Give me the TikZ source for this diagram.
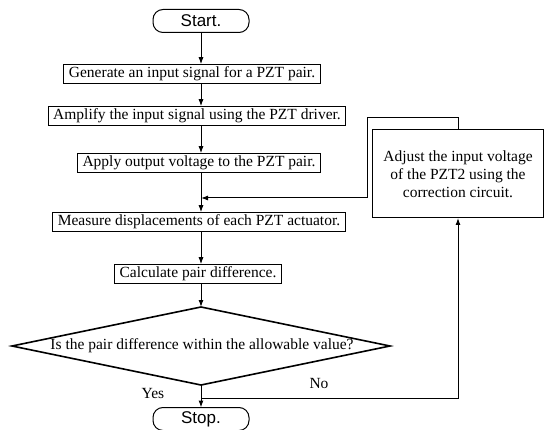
\documentclass[tikz,border=0pt]{standalone}
\usepackage{fontspec}
\setmainfont{Liberation Serif}
\newfontfamily\arialf{Liberation Sans}
\usetikzlibrary{arrows.meta,shapes.geometric}
\begin{document}
\begin{tikzpicture}[x=1pt,y=-1pt,
  proc/.style={draw,line width=1pt,font=\fontsize{15.5}{18}\selectfont,inner xsep=5pt,inner ysep=2.5pt,text height=11pt,text depth=3.5pt,outer sep=0pt},
  term/.style={draw,line width=1pt,rounded corners=10pt,minimum width=96pt,minimum height=23pt,font=\arialf\fontsize{17}{18}\selectfont,inner sep=0pt,outer sep=0pt},
  bigbox/.style={draw,line width=1pt,minimum width=171pt,minimum height=88pt,align=center,font=\fontsize{15.5}{18}\selectfont,inner sep=0pt,outer sep=0pt},
  decide/.style={draw,diamond,line width=1.6pt,minimum width=378pt,minimum height=78pt,inner sep=0pt,outer sep=0pt},
  arr/.style={line width=1pt,-{Latex[length=7pt,width=5pt]}},
  lbl/.style={font=\fontsize{15.5}{18}\selectfont,inner sep=0pt}]
\useasboundingbox (0,0) rectangle (551,430);
\fill[white] (0,0) rectangle (551,430);
\node[term] (start) at (201,21) {Start.};
\node[proc] (gen) at (192,74) {Generate an input signal for a PZT pair.};
\node[proc] (amp) at (197,116) {Amplify the input signal using the PZT driver.};
\node[proc] (app) at (199,163) {Apply output voltage to the PZT pair.};
\node[proc] (mea) at (199,222) {Measure displacements of each PZT actuator.};
\node[proc] (cal) at (198,274) {Calculate pair difference.};
\node[decide] (dia) at (201,346) {};
\node[lbl] (diatext) at (202,346) {Is the pair difference within the allowable value?};
\node[term] (stop) at (201,419) {Stop.};
\node[bigbox] (adj) at (458,174) {Adjust the input voltage\\of the PZT2 using the\\correction circuit.};
\node[lbl] (yes) at (153,393) {Yes};
\node[lbl] (no) at (319,383) {No};
\coordinate (j) at (201,398);
\coordinate (lt) at (367,118);
\coordinate (fb) at (201,198);
\draw[arr] (start.south) -- (start.south |- gen.north);
\draw[arr] (gen.south -| start.south) -- (start.south |- amp.north);
\draw[arr] (amp.south -| start.south) -- (start.south |- app.north);
\draw[arr] (app.south -| start.south) -- (start.south |- mea.north);
\draw[arr] (mea.south -| start.south) -- (start.south |- cal.north);
\draw[arr] (cal.south -| start.south) -- (dia.north);
\draw[arr] (dia.south) -- (stop.north);
\draw[arr] (j) -| (adj.south);
\draw[arr] (adj.north) |- (lt) |- (fb);
\end{tikzpicture}
\end{document}
